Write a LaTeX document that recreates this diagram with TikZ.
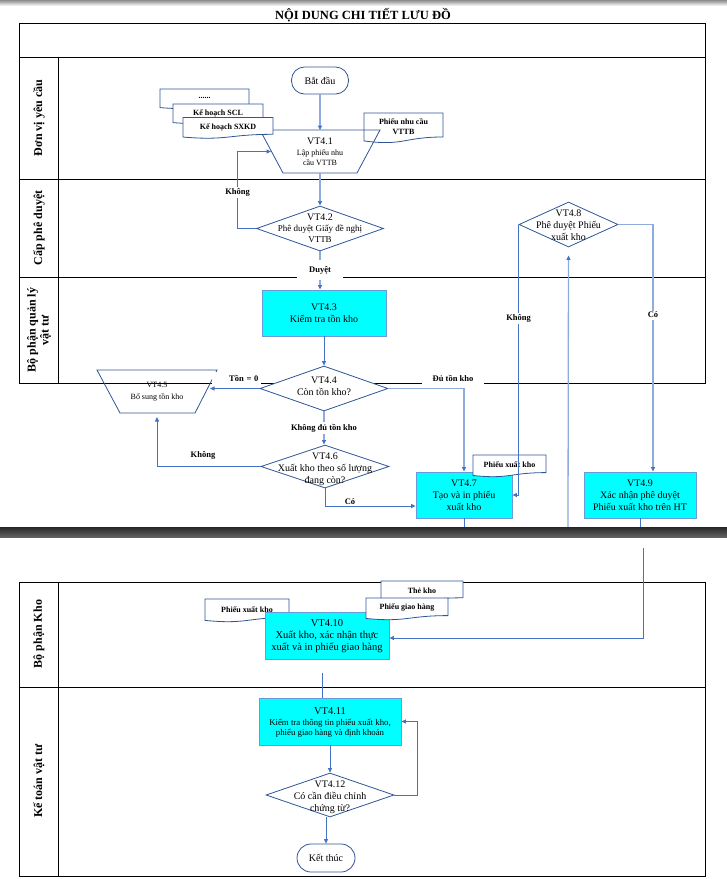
\documentclass[tikz,border=0pt]{standalone}
\usepackage{fontspec}
\setmainfont{Liberation Serif}
\usetikzlibrary{calc,arrows.meta,shapes.geometric}
\definecolor{cblue}{HTML}{4472C4}
\definecolor{lblue}{HTML}{8FAADC}
\definecolor{sblue}{HTML}{2F5597}
\definecolor{cyanf}{HTML}{00FFFF}
\definecolor{cyanb}{HTML}{6A9BD8}
\newcommand\fs[2]{\fontsize{#1}{#2}\selectfont}
\newcommand\docshape[6]{%
  \node[docbox, minimum width=#4, minimum height=#5] (#1) at (#2,#3) {};
  \filldraw[docline] (#1.north west) -- (#1.north east) -- ($(#1.north east)!0.8!(#1.south east)$) .. controls ($(#1.north)!0.8!(#1.south)$) and ($(#1.north)!1.11!(#1.south)$) .. ($(#1.north west)!0.93!(#1.south west)$) -- cycle;
  \node[doctext] (#1-t) at ($(#1.north)!0.45!(#1.south)$) {#6};}
\begin{document}
\begin{tikzpicture}[x=1pt,y=-1pt,
  conn/.style={draw=cblue, line width=0.75pt, -{Triangle[length=4.5pt,width=4pt]}},
  connl/.style={draw=lblue, line width=1.3pt, -{Triangle[length=4.5pt,width=4pt,color=cblue]}},
  plainline/.style={draw=cblue, line width=0.75pt},
  plainlinel/.style={draw=lblue, line width=1.3pt},
  grid/.style={draw=black, line width=1pt},
  lane/.style={rotate=90, font=\bfseries\fs{12}{13}, align=center, inner sep=0},
  proc/.style={draw=cyanb, fill=cyanf, line width=0.9pt, inner sep=0},
  dia/.style={diamond, draw=sblue, fill=white, line width=0.8pt, inner sep=0},
  shp/.style={draw=sblue, line width=0.8pt},
  plain/.style={inner sep=0, outer sep=0},
  txt/.style={inner sep=0, align=center, font=\fs{10}{12}},
  term/.style={draw=sblue, line width=0.8pt, rounded corners=13pt, minimum width=57, minimum height=27, inner sep=0, font=\fs{10}{12}},
  lbl/.style={font=\bfseries\fs{8.5}{10}, fill=white, inner sep=1.5pt},
  lbln/.style={font=\bfseries\fs{8.5}{10}, inner sep=1pt},
  docbox/.style={inner sep=0, outer sep=0},
  docline/.style={draw=sblue, fill=white, line width=0.8pt},
  doctext/.style={inner sep=0, align=center, font=\bfseries\fs{8}{10.5}}
]
\useasboundingbox (0,0) rectangle (727,879);
\shade[top color=black!45, bottom color=white] (0,0) rectangle (727,6);
\node[font=\bfseries\fs{12.5}{14}] (title) at (363,15.5) {NỘI DUNG CHI TIẾT LƯU ĐỒ};
% page 1 table
\draw[grid] (19,23) rectangle (705,383);
\draw[grid] (19,57) -- (705,57);
\draw[grid] (19,179) -- (705,179);
\draw[grid] (19,277) -- (705,277);
\draw[grid] (58,57) -- (58,383);
\node[lane] (L1) at (39,118) {Đơn vị yêu cầu};
\node[lane] (L2) at (39,228) {Cấp phê duyệt};
\node[lane] (L3) at (39,330) {Bộ phận quản lý\\vật tư};
% page 2 table
\draw[grid] (19,582) rectangle (705,876);
\draw[grid] (19,687) -- (705,687);
\draw[grid] (58,582) -- (58,876);
\node[lane] (L4) at (39,634) {Bộ phận Kho};
\node[lane] (L5) at (39,781) {Kế toán vật tư};

% ---------- lane 1
\node[term] (start) at (320,80.5) {Bắt đầu};
\docshape{pnc}{403.5}{128}{79}{30}{Phiếu nhu cầu\\VTTB}
\node[plain, minimum width=120, minimum height=43] (t1) at (320,151.5) {};
\draw[shp] (t1.north west) -- (t1.north east) -- ([xshift=-23]t1.south east) -- ([xshift=23]t1.south west) -- cycle;
\node[txt, font=\fs{8}{10.5}] (t1t) at (320,152) {{\fs{10}{11}VT4.1}\\Lập phiếu nhu\\cầu VTTB};
\docshape{dd}{204.5}{99}{89}{20}{......}
\docshape{scl}{218}{114}{90}{20}{Kế hoạch SCL}
\docshape{sxkd}{228}{128}{90}{21}{Kế hoạch SXKD}
\draw[connl] (start.south) -- (start.south |- t1.north);

% ---------- lane 2
\node[dia, minimum width=127, minimum height=45] (vt42) at (320,228.5) {};
\node[txt, font=\fs{9}{11}] (vt42t) at (vt42) {{\fs{10}{11}VT4.2}\\Phê duyệt Giấy đề nghị\\VTTB};
\draw[connl] (t1.south) -- (vt42.north);
\draw[conn] (vt42.west) -- ++(-18.5,0) |- node[lbl, pos=0.235] {Không} ([xshift=11]t1.west);

\node[dia, minimum width=99, minimum height=45] (vt48) at (568.5,224.5) {};
\node[txt] (vt48t) at (568.5,225) {VT4.8\\Phê duyệt Phiếu\\xuất kho};

% ---------- lane 3
\node[proc, minimum width=124, minimum height=46] (vt43) at (324,313) {};
\node[txt] (vt43t) at (vt43) {VT4.3\\Kiểm tra tồn kho};
\draw[connl] (vt42.south) -- node[lbl, minimum width=46, minimum height=20] {Duyệt} (vt42.south |- vt43.north);

\node[plain, minimum width=120, minimum height=43] (vt45) at (157,391.5) {};
\draw[shp] (vt45.north west) -- (vt45.north east) -- ([xshift=-22]vt45.south east) -- ([xshift=23]vt45.south west) -- cycle;
\node[txt, font=\fs{8}{12}] (vt45t) at (157,391.5) {VT4.5\\Bổ sung tồn kho};

\node[dia, minimum width=128, minimum height=45] (vt44) at (324,388.5) {};
\node[txt] (vt44t) at (324,386) {VT4.4\\Còn tồn kho?};
\draw[conn] (vt43.south) -- (vt44.north);
\coordinate (v45r) at (210,388.5);
\draw[conn] (vt44.west) -- (v45r);
\node[lbl, text width=45, align=right, minimum height=12, inner sep=2pt] (ton0) at (236,378) {Tồn = 0};

\node[dia, minimum width=128, minimum height=43] (vt46) at (325,466.5) {};
\node[txt] (vt46t) at (325,469) {VT4.6\\Xuất kho theo số lượng\\đang còn?};
\draw[connl] (vt44.south) -- node[lbl] {Không đủ tồn kho} (vt44.south |- vt46.north);
\draw[conn] (vt46.west) -| ([yshift=-4]vt45.south);
\node[lbln] (kh3) at (203,455) {Không};

\node[proc, minimum width=96, minimum height=46] (vt47) at (464,495) {};
\node[txt] (vt47t) at (vt47) {VT4.7\\Tạo và in phiếu\\xuất kho};
\draw[conn] (vt46.south) |- ([yshift=-11]vt47.west);
\node[lbln] (co1) at (350,502) {Có};
\docshape{pxk1}{509.5}{466}{73}{22}{Phiếu xuất kho}

\draw[connl] (vt44.east) -| (vt47.north);
\node[lbl, minimum width=62, minimum height=12] (du) at (453,378) {Đủ tồn kho};

\draw[conn] (vt48.west) |- node[lbl, pos=0.173] {Không} (vt47.east);

\node[proc, minimum width=112, minimum height=46] (vt49) at (640,495) {};
\node[txt] (vt49t) at (vt49) {VT4.9\\Xác nhận phê duyệt\\Phiếu xuất kho trên HT};
\draw[connl] (vt48.east) -| ([xshift=13]vt49.north);
\node[lbl] (co2) at (653,315) {Có};

\coordinate (b1) at (464,528);
\coordinate (b2) at (568,528);
\coordinate (b3) at (640,528);
\draw[plainline] (vt47.south) -- (b1);
\draw[connl] (b2) -- ([yshift=-8]vt48.south);
\draw[plainline] (vt49.south) -- (b3);

% band between pages
\shade[top color=black!85, bottom color=black!62] (0,527) rectangle (727,537);

% ---------- page 2
\docshape{pxk2}{247}{610.5}{84}{23}{Phiếu xuất kho}
\node[proc, minimum width=124, minimum height=47] (vt410) at (327,635.5) {};
\node[txt, font=\fs{10.5}{12}] (vt410t) at (327,636) {VT4.10\\Xuất kho, xác nhận thực\\xuất và in phiếu giao hàng};
\docshape{thekho}{422}{591.5}{82}{21}{Thẻ kho}
\docshape{pgh}{407}{609}{82}{22}{Phiếu giao hàng}
\coordinate (p2) at (643,548);
\draw[conn] (p2) |- ([yshift=-2.5]vt410.east);

\node[proc, minimum width=142, minimum height=47] (vt411) at (330,721.5) {};
\node[txt, font=\fs{8.8}{10.5}] (vt411t) at (330,722.5) {{\fs{10.5}{12}VT4.11}\\Kiểm tra thông tin phiếu xuất kho,\\phiếu giao hàng và định khoản};
\coordinate (c10) at (322,673);
\draw[plainline] (c10) -- (c10 |- vt411.north);

\node[dia, minimum width=128, minimum height=44] (vt412) at (330,795) {};
\node[txt] (vt412t) at (330,797.5) {VT4.12\\Có cần điều chỉnh\\chứng từ?};
\draw[conn] (vt411.south) -- (vt412.north);
\draw[conn] (vt412.east) -- ++(23,0) |- (vt411.east);

\node[term, minimum width=58, minimum height=28, rounded corners=14pt] (end) at (326,858) {Kết thúc};
\draw[conn] (end.north |- vt412.south) -- (end.north);
\end{tikzpicture}
\end{document}
